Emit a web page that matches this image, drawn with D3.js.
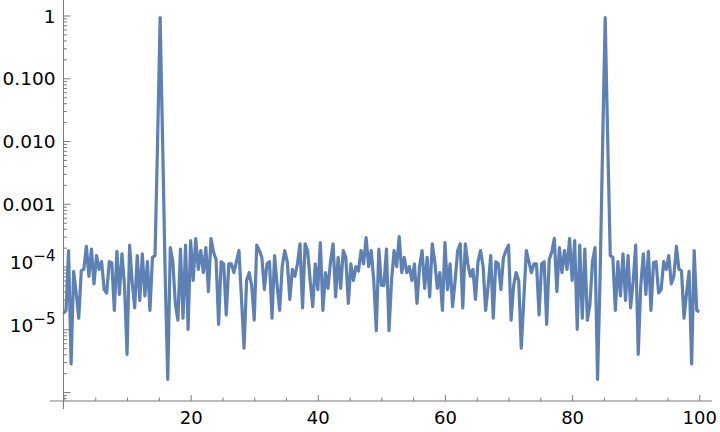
<!DOCTYPE html>
<html>
<head>
<meta charset="utf-8">
<script src="https://cdn.jsdelivr.net/npm/d3@7"></script>
<style>
  body { margin: 0; background: #fff; }
  svg { display: block; }
  text { font-family: "DejaVu Sans", sans-serif; }
</style>
</head>
<body>
<div id="chart"></div>
<script>
// Sample spacing along x (0 to 100)
const xStep = 0.4;

// Power, one value per sample
const power = [
  1.8e-5, 2.0e-5, 1.8e-4, 2.8e-6, 8.4e-5, 3.8e-5, 1.5e-5, 8.6e-5, 9.0e-5, 2.1e-4,
  7.0e-5, 1.9e-4, 5.3e-5, 1.5e-4, 9.0e-5, 1.2e-4, 4.3e-5, 3.8e-5, 1.2e-4, 1.15e-4,
  2.0e-5, 1.75e-4, 3.6e-5, 1.6e-4, 5.0e-5, 4.0e-6, 2.2e-4, 5.8e-5, 2.2e-5, 1.5e-4,
  2.9e-5, 1.6e-4, 3.4e-5, 1.2e-4, 2.0e-5, 1.4e-4, 1.5e-4, 1.0e-2, 0.93, 9.0e-3,
  7.0e-5, 1.6e-6, 2.0e-4, 1.2e-4, 2.5e-5, 1.4e-5, 1.9e-4, 1.5e-5, 2.2e-4, 1.0e-5,
  2.6e-4, 6.0e-5, 2.8e-4, 9.0e-5, 1.8e-4, 8.0e-5, 2.0e-4, 4.0e-5, 2.8e-4, 1.7e-4,
  1.3e-4, 1.2e-5, 1.2e-4, 1.1e-4, 1.7e-5, 1.1e-4, 1.1e-4, 8.0e-5, 1.2e-4, 1.8e-4,
  3.0e-5, 5.0e-6, 6.0e-5, 8.0e-5, 5.0e-5, 1.4e-5, 2.2e-4, 1.8e-4, 1.4e-4, 4.3e-5,
  1.1e-4, 1.2e-4, 1.5e-5, 1.5e-4, 5.0e-5, 2.0e-5, 1.0e-4, 1.8e-4, 1.2e-4, 3.0e-5,
  9.0e-5, 7.0e-5, 1.1e-4, 2.3e-4, 2.2e-5, 2.3e-4, 1.8e-4, 6.0e-5, 2.3e-5, 1.1e-4,
  4.3e-5, 2.4e-4, 2.0e-5, 8.0e-5, 4.5e-5, 1.2e-4, 2.3e-4, 3.3e-5, 1.4e-4, 4.5e-5,
  1.8e-4, 1.4e-4, 2.6e-5, 1.1e-4, 6.0e-5, 1.0e-4, 8.5e-5, 1.8e-4, 1.1e-4, 2.9e-4,
  1.0e-4, 1.8e-4, 6.0e-5, 9.5e-6, 1.9e-4, 5.0e-5, 5.0e-5, 1.9e-4, 9.5e-6, 6.0e-5,
  1.8e-4, 1.0e-4, 3.0e-4, 8.0e-5, 1.4e-4, 8.0e-5, 1.0e-4, 6.0e-5, 1.1e-4, 2.6e-5,
  1.0e-4, 1.8e-4, 4.5e-5, 1.4e-4, 3.3e-5, 2.3e-4, 1.2e-4, 4.5e-5, 8.0e-5, 2.0e-5,
  2.4e-4, 4.3e-5, 1.1e-4, 2.3e-5, 6.0e-5, 1.8e-4, 2.3e-4, 2.2e-5, 2.3e-4, 1.1e-4,
  7.0e-5, 9.0e-5, 3.0e-5, 1.2e-4, 1.8e-4, 1.0e-4, 2.0e-5, 5.0e-5, 1.5e-4, 1.5e-5,
  1.2e-4, 1.1e-4, 4.3e-5, 1.4e-4, 1.8e-4, 2.2e-4, 1.4e-5, 5.0e-5, 8.0e-5, 6.0e-5,
  5.0e-6, 3.0e-5, 1.8e-4, 1.2e-4, 8.0e-5, 1.1e-4, 1.1e-4, 1.7e-5, 1.1e-4, 1.2e-4,
  1.2e-5, 1.3e-4, 1.7e-4, 2.8e-4, 4.0e-5, 2.0e-4, 8.0e-5, 1.8e-4, 9.0e-5, 2.8e-4,
  6.0e-5, 2.6e-4, 1.0e-5, 2.2e-4, 1.5e-5, 1.9e-4, 1.4e-5, 2.5e-5, 1.2e-4, 2.0e-4,
  1.6e-6, 7.0e-5, 9.0e-3, 0.93, 1.0e-2, 1.5e-4, 1.4e-4, 2.0e-5, 1.2e-4, 3.4e-5,
  1.6e-4, 2.9e-5, 1.5e-4, 2.2e-5, 5.8e-5, 2.2e-4, 4.0e-6, 5.0e-5, 1.6e-4, 3.6e-5,
  1.75e-4, 2.0e-5, 1.15e-4, 1.2e-4, 3.8e-5, 4.3e-5, 1.2e-4, 9.0e-5, 1.5e-4, 5.3e-5,
  7.0e-5, 2.1e-4, 9.0e-5, 8.6e-5, 1.5e-5, 3.8e-5, 8.4e-5, 2.8e-6, 1.8e-4, 2.0e-5,
  1.9e-5
];

// Tick values
const xMajor = [0, 20, 40, 60, 80, 100];
const xMinor = [5, 10, 15, 25, 30, 35, 45, 50, 55, 65, 70, 75, 85, 90, 95];
const yMajor = [1e-6, 1e-5, 1e-4, 1e-3, 1e-2, 1e-1, 1];
const yLabels = { 1: "1", 0.1: "0.100", 0.01: "0.010", 0.001: "0.001", 1e-4: ["10", "\u22124"], 1e-5: ["10", "\u22125"] };

const data = power.map((v, i) => ({ f: i * xStep, p: v }));

const width = 720, height = 432;
const axisColor = "#7a7a7a";

const svg = d3.select("#chart").append("svg")
  .attr("width", width)
  .attr("height", height);

const x = d3.scaleLinear().domain([-2.12, 102]).range([50, 712]);
const y = d3.scaleLog().domain([Math.pow(10, -6.142), Math.pow(10, 0.247)]).range([401, 0]);

// Minor y ticks: 2..9 within each decade
const yMinor = [];
for (let e = -7; e <= 0; e++) {
  for (let m = 2; m <= 9; m++) {
    const v = m * Math.pow(10, e);
    if (v > y.domain()[0] && v < y.domain()[1]) yMinor.push(v);
  }
}

// Line
const line = d3.line()
  .x(d => x(d.f))
  .y(d => y(d.p));

svg.append("path")
  .datum(data)
  .attr("fill", "none")
  .attr("stroke", "#5e81b5")
  .attr("stroke-width", 3.2)
  .attr("stroke-linejoin", "round")
  .attr("d", line);

// x axis
const gx = svg.append("g").attr("transform", `translate(0,${y.range()[0]})`);
gx.append("g")
  .call(d3.axisBottom(x).tickValues(xMinor).tickSizeInner(-3.5).tickSizeOuter(0).tickFormat(""))
  .call(g => g.select(".domain").remove());
gx.append("g")
  .call(d3.axisBottom(x).tickValues(xMajor).tickSizeInner(-6).tickSizeOuter(0)
    .tickPadding(10).tickFormat(d => d === 0 ? "" : d))
  .call(g => g.select(".domain").remove())
  .call(g => g.selectAll("text").attr("font-size", 18).attr("fill", "#000")
    .attr("font-family", "DejaVu Sans, sans-serif"));
gx.append("line")
  .attr("x1", x.range()[0]).attr("x2", x.range()[1])
  .attr("y1", 0).attr("y2", 0);
gx.selectAll("line").attr("stroke", axisColor);

// y axis
const gy = svg.append("g").attr("transform", `translate(${x(0)},0)`);
gy.append("g")
  .call(d3.axisLeft(y).tickValues(yMinor).tickSizeInner(-3.5).tickSizeOuter(0).tickFormat(""))
  .call(g => g.select(".domain").remove());
const gyMajor = gy.append("g")
  .call(d3.axisLeft(y).tickValues(yMajor).tickSizeInner(-7).tickSizeOuter(0)
    .tickPadding(8).tickFormat(""))
  .call(g => g.select(".domain").remove());
gy.append("line")
  .attr("x1", 0).attr("x2", 0)
  .attr("y1", 0).attr("y2", 409);
gy.selectAll("line").attr("stroke", axisColor);

// y tick labels (with superscript exponents)
gyMajor.selectAll(".tick").each(function (d) {
  const lab = yLabels[d];
  if (!lab) return;
  const t = d3.select(this).select("text")
    .attr("font-size", 18.5)
    .attr("fill", "#000")
    .attr("font-family", "DejaVu Sans, sans-serif")
    .attr("dy", "0.36em");
  if (Array.isArray(lab)) {
    t.append("tspan").attr("dy", "0.12em").text(lab[0]);
    t.append("tspan").attr("font-size", 15).attr("dy", "-0.55em").text(lab[1]);
  } else {
    t.text(lab);
  }
});
</script>
</body>
</html>
